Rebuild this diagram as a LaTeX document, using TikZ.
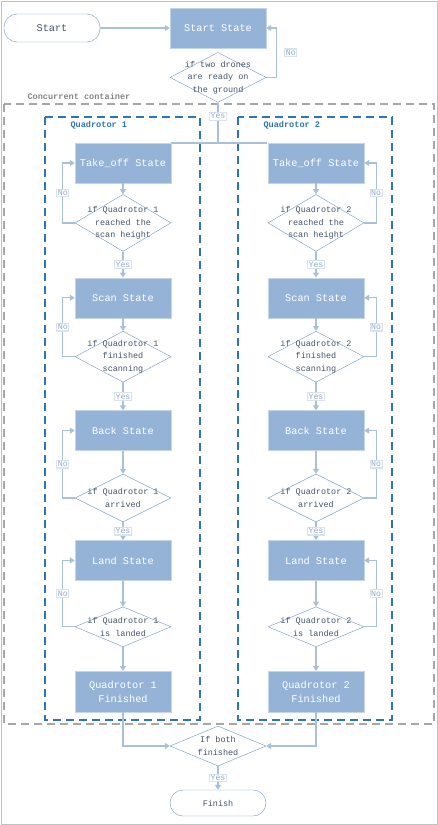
\documentclass[tikz,border=0pt]{standalone}
\usepackage{fontspec}
\setmonofont{Liberation Mono}
\usetikzlibrary{arrows.meta, positioning, shapes.geometric}
\definecolor{colorBox}{HTML}{95B3D7}
\definecolor{colorEdge}{HTML}{6F97C3}
\definecolor{colorLine}{HTML}{A9C0DB}
\definecolor{colorText}{HTML}{44546A}
\definecolor{colorAnswer}{HTML}{8FAAD0}
\definecolor{colorQuad}{HTML}{2E75B6}
\definecolor{colorGroup}{HTML}{A6A6A6}
\tikzset{
  statebox/.style={rectangle, fill=colorBox, draw=colorBox!55, text=white, minimum width=96bp, minimum height=40bp, align=center, font=\ttfamily\fontsize{10.3}{14}\selectfont},
  decision/.style={diamond, draw=colorEdge, fill=white, minimum width=96bp, inner sep=0pt},
  dectext/.style={text=colorText, align=center, font=\ttfamily\fontsize{8.5}{12.5}\selectfont},
  terminal/.style={rectangle, rounded corners=13bp, draw=colorEdge, fill=white, minimum width=96bp, text=colorText},
  flow/.style={draw=colorLine, line width=1.2bp, -{Triangle[width=6bp,length=5bp]}},
  answer/.style={fill=white, draw=colorLine!45, inner sep=1bp, text=colorAnswer, font=\ttfamily\fontsize{8.3}{10}\selectfont},
  group/.style={dash pattern=on 8bp off 5bp, line width=1.5bp}
}

\begin{document}
\begin{tikzpicture}[x=1bp, y=-1bp]
\useasboundingbox (0,0) rectangle (438,825);
\draw[colorGroup!70, line width=0.8bp] (1,1) rectangle (437,824);

% containers
\draw[group, colorGroup] (4,104) rectangle (434,724);
\node[anchor=west, text=colorGroup!80!black, font=\ttfamily\bfseries\fontsize{8.6}{10}\selectfont] (concurrent) at (24,96) {Concurrent container};
\draw[group, colorQuad] (45,117) rectangle (200,720);
\draw[group, colorQuad] (238,117) rectangle (392,720);
\node[anchor=west, text=colorQuad, font=\ttfamily\bfseries\fontsize{8.6}{10}\selectfont] (quad1) at (67,125) {Quadrotor 1};
\node[anchor=west, text=colorQuad, font=\ttfamily\bfseries\fontsize{8.6}{10}\selectfont] (quad2) at (260,125) {Quadrotor 2};

% start
\node[terminal, minimum height=28bp, font=\ttfamily\fontsize{10.3}{12}\selectfont] (start) at (52,28) {Start};
\node[statebox] (startstate) at (218,28) {Start State};
\node[decision, minimum height=50bp, below=4bp of startstate, label={[dectext]center:{if two drones\\are ready on\\the ground}}] (ready) {};
\draw[flow] (start) -- (startstate);
\draw[flow] (ready.east) -- ++(10,0) |- (startstate.east) node[answer, pos=0.25, anchor=west, xshift=8bp] {No};
\draw[draw=colorLine, line width=1.2bp] (ready.south) |- (218,143) -- (171,143);
\draw[draw=colorLine, line width=1.2bp] (218,143) -- (267,143);
\node[answer] (yes0) at (218,116) {Yes};

% the two quadrotors
\foreach \q/\x/\side/\dx in {1/123/west/-12, 2/316/east/12} {
  \node[statebox] (takeoff\q) at (\x,163) {Take\_off State};
  \node[decision, minimum height=57bp, below=11bp of takeoff\q, label={[dectext]center:{if Quadrotor \q\\reached the\\scan height}}] (reach\q) {};
  \node[statebox, below=26bp of reach\q] (scan\q) {Scan State};
  \node[decision, minimum height=51bp, below=13bp of scan\q, label={[dectext]center:{if Quadrotor \q\\finished\\scanning}}] (scanned\q) {};
  \node[statebox, below=28bp of scanned\q] (back\q) {Back State};
  \node[decision, minimum height=48bp, below=23bp of back\q, label={[dectext]center:{if Quadrotor \q\\arrived}}] (arrived\q) {};
  \node[statebox, below=18bp of arrived\q] (land\q) {Land State};
  \node[decision, minimum height=40bp, below=26bp of land\q, label={[dectext]center:{if Quadrotor \q\\is landed}}] (landed\q) {};
  \node[statebox, minimum height=41bp, below=24bp of landed\q] (done\q) {Quadrotor \q\\Finished};

  \draw[flow] (takeoff\q) -- (reach\q);
  \draw[flow] (reach\q) -- (scan\q) node[answer, midway] {Yes};
  \draw[flow] (scan\q) -- (scanned\q);
  \draw[flow] (scanned\q) -- (back\q) node[answer, midway] {Yes};
  \draw[flow] (back\q) -- (arrived\q);
  \draw[flow] (arrived\q) -- (land\q) node[answer, midway] {Yes};
  \draw[flow] (land\q) -- (landed\q);
  \draw[flow] (landed\q) -- (done\q);

  \draw[flow] (reach\q.\side) -- ++(\dx,0) |- (takeoff\q.\side) node[answer, pos=0.25] {No};
  \draw[flow] (scanned\q.\side) -- ++(\dx,0) |- (scan\q.\side) node[answer, pos=0.25] {No};
  \draw[flow] (arrived\q.\side) -- ++(\dx,0) |- (back\q.\side) node[answer, pos=0.25] {No};
  \draw[flow] (landed\q.\side) -- ++(\dx,0) |- (land\q.\side) node[answer, pos=0.25] {No};
}

% finish
\node[decision, minimum height=40bp, label={[dectext]center:{If both\\finished}}] (both) at (218,746) {};
\node[terminal, minimum height=26bp, font=\ttfamily\fontsize{8.5}{10}\selectfont] (finish) at (218,803) {Finish};
\draw[flow] (done1.south) |- (both.west);
\draw[flow] (done2.south) |- (both.east);
\draw[flow] (both) -- (finish) node[answer, midway] {Yes};
\end{tikzpicture}
\end{document}
